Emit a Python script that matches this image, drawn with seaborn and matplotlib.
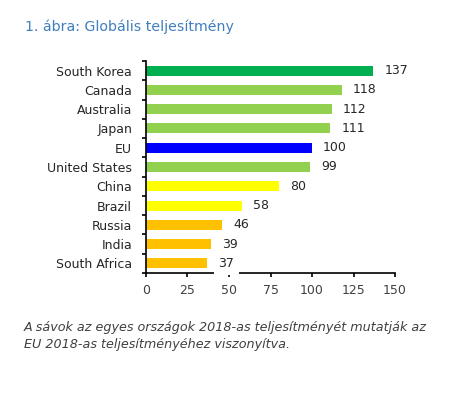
import matplotlib
matplotlib.use("Agg")
import matplotlib.pyplot as plt
import seaborn as sns
import numpy as np

countries = ["South Korea", "Canada", "Australia", "Japan", "EU", "United States",
             "China", "Brazil", "Russia", "India", "South Africa"]
scores = [137, 118, 112, 111, 100, 99, 80, 58, 46, 39, 37]
bar_colors = ["#00B050", "#92D050", "#92D050", "#92D050", "#0000FF", "#92D050",
              "#FFFF00", "#FFFF00", "#FFC000", "#FFC000", "#FFC000"]
x_ticks = [0, 25, 50, 75, 100, 125, 150]

title = "1. ábra: Globális teljesítmény"
note = ("A sávok az egyes országok 2018-as teljesítményét mutatják az\n"
        "EU 2018-as teljesítményéhez viszonyítva.")

sns.set_style("white")
plt.rcParams["font.family"] = ["DejaVu Sans"]

fig = plt.figure(figsize=(4.64, 3.98), dpi=100)
ax = fig.add_axes([146 / 464, 1 - 273 / 398, 249 / 464, 212 / 398])

sns.barplot(x=scores, y=countries, hue=countries, palette=bar_colors,
            legend=False, orient="h", width=0.52, saturation=1,
            linewidth=0, ax=ax)

# value labels (white box hides the axis line under "37", as in the original)
for i, v in enumerate(scores):
    ax.annotate(str(v), (v, i), xytext=(8, 0), textcoords="offset points",
                va="center", ha="left", fontsize=9, color="#262626",
                bbox=dict(boxstyle="square,pad=0.4", fc="white", ec="none"),
                zorder=5, annotation_clip=False)

ax.set_xlim(0, 150)
ax.set_ylim(len(countries) - 0.5, -0.5)
ax.set_xticks(x_ticks)
ax.set_yticks(np.arange(len(countries)))
ax.set_yticks(np.arange(len(countries) + 1) - 0.5, minor=True)
ax.tick_params(axis="y", which="major", length=0, pad=10, labelsize=9, labelcolor="#262626")
ax.tick_params(axis="y", which="minor", length=3, width=1.2, color="black", direction="out", left=True)
ax.tick_params(axis="x", length=3, width=1.2, color="black", direction="out", bottom=True,
               labelsize=9, labelcolor="#404040", pad=5)
ax.set_xlabel("")
ax.set_ylabel("")

for s in ["top", "right"]:
    ax.spines[s].set_visible(False)
for s in ["left", "bottom"]:
    ax.spines[s].set_color("black")
    ax.spines[s].set_linewidth(1.2)

fig.text(25 / 464, 1 - 27 / 398, title, fontsize=10.2, color="#3F7FC0", va="center", ha="left")
fig.text(24 / 464, 1 - 336 / 398, note, fontsize=9.2, style="italic", color="#404040",
         va="center", ha="left", linespacing=1.4)

fig.savefig("out.png", dpi=100)
